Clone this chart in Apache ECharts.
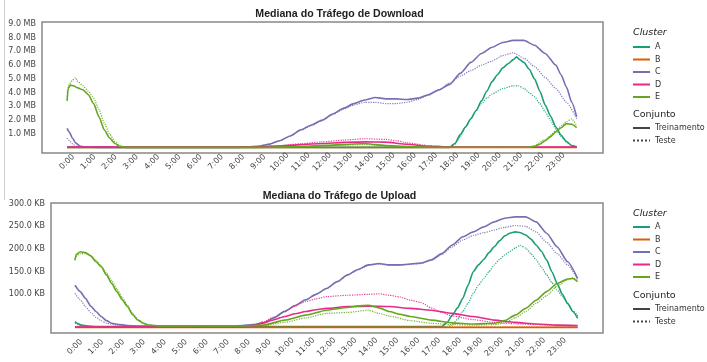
<!DOCTYPE html>
<html>
<head>
<meta charset="utf-8">
<script src="https://cdn.jsdelivr.net/npm/echarts@6/dist/echarts.min.js"></script>
<style>
  html, body { margin: 0; padding: 0; background: #ffffff; }
  #chart { width: 707px; height: 362px; }
</style>
</head>
<body>
<div id="chart"></div>
<script>
// Hour ticks shown on both time axes
const hourTicks = [0,1,2,3,4,5,6,7,8,9,10,11,12,13,14,15,16,17,18,19,20,21,22,23];
const mbTicks = [1,2,3,4,5,6,7,8,9];
const kbTicks = [100,150,200,250,300];
const clusters = ['A','B','C','D','E'];
const sets = ['Treinamento','Teste'];

// Median download traffic (MB) per cluster, [hour, value]
const dlA_train = [[0,0.02],[18,0.02],[18.25,0.3],[18.5,0.95],[18.75,1.5],[19,2.1],[19.25,2.7],[19.5,3.4],[19.75,4.1],[20,4.8],[20.25,5.3],[20.5,5.8],[20.75,6.1],[21,6.4],[21.15,6.6],[21.3,6.4],[21.5,6.2],[21.75,5.7],[22,5.0],[22.25,4.1],[22.5,3.1],[22.75,2.3],[23,1.5],[23.25,0.9],[23.5,0.45],[23.75,0.15],[23.98,0.05]];
const dlA_test = [[0,0.02],[18,0.02],[18.25,0.25],[18.5,0.8],[18.75,1.5],[19,2.1],[19.25,2.7],[19.5,3.2],[19.75,3.6],[20,3.9],[20.5,4.3],[21,4.5],[21.25,4.5],[21.5,4.3],[21.75,4.0],[22,3.7],[22.25,3.2],[22.5,2.6],[22.75,2.0],[23,1.35],[23.25,0.8],[23.5,0.4],[23.75,0.15],[23.98,0.08]];
const dlB_train = [[0,0.01],[6,0.01],[12,0.01],[18,0.01],[23.98,0.01]];
const dlB_test = [[0,0.01],[6,0.01],[12,0.01],[18,0.01],[23.98,0.01]];
const dlC_train = [[0,1.4],[0.1,1.15],[0.25,0.7],[0.4,0.35],[0.6,0.12],[0.85,0.04],[1.5,0.02],[8,0.02],[8.5,0.05],[9,0.1],[9.5,0.25],[10,0.5],[10.5,0.85],[11,1.3],[11.5,1.65],[12,2.0],[12.5,2.45],[13,2.86],[13.5,3.2],[14,3.47],[14.5,3.65],[15,3.55],[15.5,3.55],[16,3.5],[16.5,3.6],[17,3.85],[17.5,4.2],[18,4.6],[18.5,5.4],[19,6.2],[19.5,6.85],[20,7.3],[20.5,7.65],[21,7.8],[21.5,7.8],[22,7.45],[22.5,6.85],[23,6.0],[23.25,5.3],[23.5,4.4],[23.75,3.3],[23.98,2.25]];
const dlC_test = [[0,0.7],[0.15,0.45],[0.3,0.2],[0.5,0.06],[0.75,0.02],[8,0.02],[8.5,0.05],[9,0.1],[9.5,0.25],[10,0.5],[10.5,0.85],[11,1.25],[11.5,1.6],[12,1.95],[12.5,2.4],[13,2.8],[13.5,3.1],[14,3.3],[14.5,3.3],[15,3.2],[15.5,3.2],[16,3.3],[16.5,3.5],[17,3.8],[17.5,4.2],[18,4.7],[18.5,5.2],[19,5.6],[19.5,6.0],[20,6.3],[20.5,6.7],[21,6.9],[21.5,6.5],[22,5.9],[22.5,5.1],[23,4.3],[23.5,3.3],[23.98,2.1]];
const dlD_train = [[0,0.04],[8.5,0.04],[9,0.06],[10,0.12],[11,0.22],[12,0.3],[13,0.38],[14,0.42],[15,0.4],[16,0.25],[17,0.1],[18,0.05],[23.98,0.04]];
const dlD_test = [[0,0.04],[8.5,0.04],[9,0.08],[10,0.15],[11,0.28],[12,0.42],[13,0.55],[14,0.65],[15,0.6],[15.5,0.5],[16,0.35],[17,0.15],[18,0.06],[23.98,0.04]];
const dlE_train = [[0,3.4],[0.05,4.3],[0.15,4.55],[0.3,4.5],[0.5,4.35],[0.75,4.2],[1,3.85],[1.25,3.2],[1.5,2.25],[1.75,1.3],[2,0.7],[2.25,0.3],[2.5,0.08],[2.75,0.02],[9,0.02],[10,0.04],[11,0.08],[12,0.15],[13,0.22],[14,0.3],[14.5,0.22],[15,0.15],[16,0.08],[17,0.03],[21.75,0.03],[22,0.1],[22.25,0.25],[22.5,0.5],[22.75,0.8],[23,1.15],[23.25,1.45],[23.5,1.75],[23.75,1.7],[23.98,1.45]];
const dlE_test = [[0,4.0],[0.1,4.6],[0.25,4.9],[0.4,5.1],[0.5,4.8],[0.75,4.5],[1,4.1],[1.25,3.6],[1.5,2.8],[1.75,1.8],[2,1.0],[2.25,0.45],[2.5,0.15],[2.75,0.03],[9,0.02],[10,0.04],[11,0.08],[12,0.13],[13,0.18],[14,0.22],[15,0.15],[16,0.08],[17,0.03],[21.75,0.03],[22,0.15],[22.5,0.6],[23,1.2],[23.25,1.6],[23.5,1.9],[23.75,2.1],[23.98,1.6]];

// Median upload traffic (KB) per cluster, [hour, value]
const ulA_train = [[0,40],[0.1,36],[0.3,32],[0.6,30],[1,29],[17.5,29],[17.75,38],[18,54],[18.25,70],[18.5,91],[18.75,120],[19,150],[19.25,165],[19.5,177],[19.75,192],[20,205],[20.25,218],[20.5,229],[20.75,235],[21,238],[21.25,236],[21.5,231],[21.75,222],[22,209],[22.25,195],[22.5,176],[22.75,150],[23,124],[23.25,100],[23.5,80],[23.75,62],[23.98,47]];
const ulA_test = [[0,36],[0.2,32],[0.6,30],[1,29],[17.75,29],[18,32],[18.25,45],[18.5,62],[18.75,80],[19,102],[19.25,120],[19.5,135],[19.75,150],[20,165],[20.25,177],[20.5,187],[20.75,195],[21,202],[21.25,208],[21.5,202],[21.75,190],[22,176],[22.25,160],[22.5,143],[22.75,126],[23,110],[23.25,95],[23.5,80],[23.75,65],[23.98,52]];
const ulB_train = [[0,27],[6,27],[12,27],[18,27],[23.98,27]];
const ulB_test = [[0,27.5],[6,27.5],[12,27.5],[18,27.5],[23.98,27.5]];
const ulC_train = [[0,120],[0.25,106],[0.5,91],[0.75,74],[1,62],[1.25,51],[1.5,42],[1.75,36],[2,34],[2.5,31],[3,30],[7.5,30],[8,31],[8.5,33],[9,37],[9.5,48],[10,62],[10.5,75],[11,88],[11.5,100],[12,113],[12.5,128],[13,143],[13.5,155],[14,165],[14.5,168],[15,165],[15.5,165],[16,167],[16.5,169],[17,176],[17.5,190],[18,209],[18.5,227],[19,238],[19.5,249],[20,260],[20.5,268],[21,271],[21.5,271],[22,260],[22.5,235],[23,205],[23.5,172],[23.98,135]];
const ulC_test = [[0,102],[0.25,88],[0.5,73],[0.75,60],[1,49],[1.25,42],[1.5,36],[2,32],[3,30],[7.5,30],[8,31],[8.5,33],[9,37],[9.5,48],[10,62],[10.5,75],[11,88],[11.5,100],[12,113],[12.5,127],[13,142],[13.5,154],[14,164],[14.5,167],[15,164],[15.5,164],[16,166],[16.5,168],[17,175],[17.5,188],[18,205],[18.5,220],[19,230],[19.5,236],[20,242],[20.5,248],[21,252],[21.5,250],[22,238],[22.5,215],[23,190],[23.5,165],[23.98,133]];
const ulD_train = [[0,28],[8,28],[8.5,30],[9,37],[9.5,44],[10,51],[10.5,57],[11,62],[11.5,66],[12,69],[13,73],[14,74],[15,73],[16,69],[17,65],[18,58],[19,51],[20,43],[21,38],[22,34.5],[23,32],[23.98,31]];
const ulD_test = [[0,28],[8,28],[8.5,32],[9,40],[9.5,50],[10,63],[10.5,74],[11,84],[11.5,90],[12,95],[13,98],[14,100],[14.5,101],[15,98],[15.5,94],[16,87],[16.5,82],[17,70],[17.5,60],[18,52],[19,44],[20,38],[21,35],[22,33],[23,31],[23.98,30]];
const ulE_train = [[0,175],[0.05,188],[0.25,194],[0.5,192],[0.75,185],[1,172],[1.25,161],[1.5,143],[1.75,124],[2,106],[2.25,88],[2.5,73],[2.75,55],[3,43],[3.25,36],[3.5,32],[4,30],[8,30],[9,32],[10,43],[11,54],[12,65],[13,71],[13.5,74],[14,76],[14.5,70],[15,62],[15.5,56],[16,51],[17,43],[18,37],[19,34.5],[20,36],[20.5,42],[21,54],[21.5,69],[22,87],[22.5,106],[23,124],[23.5,134],[23.75,135],[23.98,128]];
const ulE_test = [[0,178],[0.1,186],[0.25,190],[0.5,190],[0.75,185],[1,175],[1.25,163],[1.5,148],[1.75,130],[2,112],[2.25,93],[2.5,76],[2.75,58],[3,45],[3.25,37],[3.5,33],[4,30],[8,30],[9,31],[10,38],[11,48],[12,58],[13,60],[14,65],[14.5,58],[15,52],[16,42],[17,36],[18,33],[19,32],[20,33],[20.5,37],[21,48],[21.5,62],[22,80],[22.5,97],[23,118],[23.5,132],[23.75,137],[23.98,130]];

const palette = { A: '#1b9e77', B: '#d95f02', C: '#7570b3', D: '#e7298a', E: '#66a61e' };

const downloadSeries = {
  A: [dlA_train, dlA_test], B: [dlB_train, dlB_test], C: [dlC_train, dlC_test],
  D: [dlD_train, dlD_test], E: [dlE_train, dlE_test]
};
const uploadSeries = {
  A: [ulA_train, ulA_test], B: [ulB_train, ulB_test], C: [ulC_train, ulC_test],
  D: [ulD_train, ulD_test], E: [ulE_train, ulE_test]
};

const FONT = 'DejaVu Sans';

function lineSeries(name, data, panel, isTest) {
  return {
    name: name,
    type: 'line',
    xAxisIndex: panel,
    yAxisIndex: panel,
    data: data,
    symbol: 'none',
    showSymbol: false,
    smooth: 0.2,
    smoothMonotone: 'x',
    color: palette[name],
    lineStyle: { width: isTest ? 1.2 : 1.6, type: isTest ? 'dotted' : 'solid', opacity: isTest ? 0.9 : 1 },
    animation: false,
    silent: true
  };
}

const series = [];
[downloadSeries, uploadSeries].forEach(function (group, panel) {
  clusters.forEach(function (c) {
    series.push(lineSeries(c, group[c][0], panel, false));
    series.push(lineSeries(c, group[c][1], panel, true));
  });
});
// Style key entries for the two data sets
series.push({ name: sets[0], type: 'line', data: [], symbol: 'none', color: '#444444', lineStyle: { width: 1.6, type: 'solid' } });
series.push({ name: sets[1], type: 'line', data: [], symbol: 'none', color: '#444444', lineStyle: { width: 1.2, type: 'dotted' } });

function xAxisFor(panel, min, max, margin) {
  return {
    type: 'value', gridIndex: panel, min: min, max: max,
    axisLine: { show: false }, axisTick: { show: false }, splitLine: { show: false },
    axisLabel: {
      customValues: hourTicks,
      formatter: function (v) { return Math.round(v) + ':00'; },
      rotate: 45, align: 'center', verticalAlign: 'middle', margin: margin,
      fontSize: 8, color: '#444444', fontFamily: FONT
    }
  };
}

function yAxisFor(panel, min, max, ticks, unit) {
  return {
    type: 'value', gridIndex: panel, min: min, max: max,
    axisLine: { show: false }, axisTick: { show: false }, splitLine: { show: false },
    axisLabel: {
      customValues: ticks,
      formatter: function (v) { return v.toFixed(1) + ' ' + unit; },
      margin: 6, fontSize: 8, color: '#444444', fontFamily: FONT
    }
  };
}

function legendBlock(items, top) {
  return {
    data: items, orient: 'vertical', left: 632, top: top,
    itemWidth: 17, itemHeight: 8, itemGap: 4.5, padding: 0,
    selectedMode: false,
    // line swatch only, no marker dot
    itemStyle: { opacity: 0 },
    textStyle: { fontSize: 8, color: '#333333', fontFamily: FONT, lineHeight: 8 }
  };
}

function text(x, y, str, font, align) {
  return {
    type: 'text', x: x, y: y, silent: true,
    style: { text: str, font: font, fill: '#222222', align: align, verticalAlign: 'middle' }
  };
}

const option = {
  backgroundColor: '#ffffff',
  animation: false,
  grid: [
    { left: 42, top: 22, width: 561, height: 131, show: true, borderColor: '#888888', borderWidth: 1.5, backgroundColor: 'transparent' },
    { left: 51, top: 203, width: 552, height: 130, show: true, borderColor: '#888888', borderWidth: 1.5, backgroundColor: 'transparent' }
  ],
  xAxis: [
    xAxisFor(0, -1.18, 25.22, 9),
    xAxisFor(1, -1.145, 25.19, 14)
  ],
  yAxis: [
    yAxisFor(0, -0.39, 9.14, mbTicks, 'MB'),
    yAxisFor(1, 14.6, 301.7, kbTicks, 'KB')
  ],
  legend: [
    legendBlock(clusters, 43),
    legendBlock(sets, 124),
    legendBlock(clusters, 223),
    legendBlock(sets, 305)
  ],
  series: series,
  graphic: [
    text(339.5, 14, 'Mediana do Tráfego de Download', 'bold 10.6px "Liberation Sans", Arial, sans-serif', 'center'),
    text(339.5, 196, 'Mediana do Tráfego de Upload', 'bold 10.6px "Liberation Sans", Arial, sans-serif', 'center'),
    text(633, 33, 'Cluster', 'italic 9.5px "DejaVu Sans", sans-serif', 'left'),
    text(633, 115, 'Conjunto', '9.5px "DejaVu Sans", sans-serif', 'left'),
    text(633, 214, 'Cluster', 'italic 9.5px "DejaVu Sans", sans-serif', 'left'),
    text(633, 296, 'Conjunto', '9.5px "DejaVu Sans", sans-serif', 'left'),
    { type: 'line', silent: true, shape: { x1: 4.5, y1: 0, x2: 4.5, y2: 200 }, style: { stroke: '#cccccc', lineWidth: 1 } }
  ]
};

const chart = echarts.init(document.getElementById('chart'), null, { renderer: 'canvas' });
chart.setOption(option);
</script>
</body>
</html>
